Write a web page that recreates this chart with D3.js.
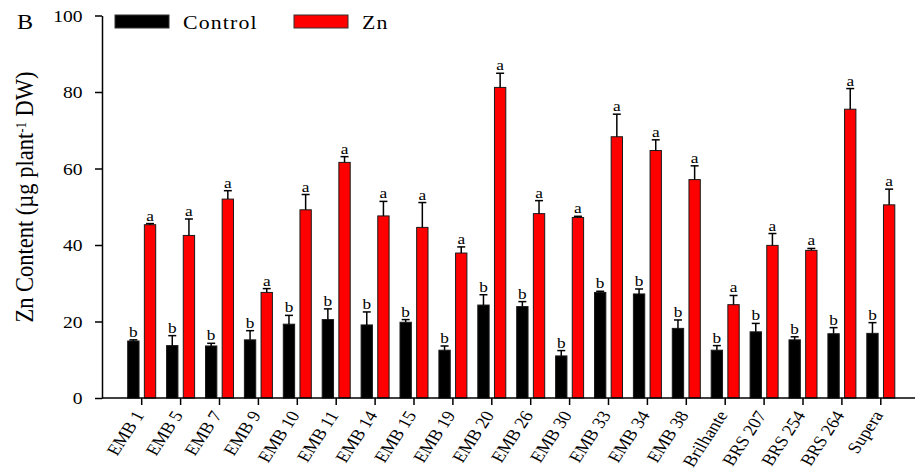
<!DOCTYPE html>
<html>
<head>
<meta charset="utf-8">
<script src="https://cdn.jsdelivr.net/npm/d3@7/dist/d3.min.js"></script>
<style>
  html, body { margin: 0; padding: 0; background: #fff; }
  svg { display: block; }
  svg text { font-family: "Liberation Serif", "Times New Roman", serif; fill: #000; }
</style>
</head>
<body>
<svg id="chart" width="915" height="474"></svg>
<script>
// Genotypes along the x axis
const genotypes = ["EMB 1", "EMB 5", "EMB 7", "EMB 9", "EMB 10", "EMB 11", "EMB 14", "EMB 15",
  "EMB 19", "EMB 20", "EMB 26", "EMB 30", "EMB 33", "EMB 34", "EMB 38", "Brilhante",
  "BRS 207", "BRS 254", "BRS 264", "Supera"];

// Zn content (µg plant-1 DW), mean and standard error
const controlMean = [14.9, 13.7, 13.6, 15.2, 19.3, 20.5, 19.1, 19.8, 12.5, 24.3, 23.9, 11.0, 27.6, 27.2, 18.2, 12.5, 17.3, 15.2, 16.8, 16.9];
const controlErr  = [0.3, 2.6, 0.7, 2.4, 2.3, 2.8, 3.4, 0.7, 1.1, 2.7, 1.3, 1.4, 0.3, 1.3, 2.2, 1.2, 2.2, 0.8, 1.6, 2.8];
const znMean      = [45.3, 42.5, 52.0, 27.6, 49.2, 61.6, 47.6, 44.6, 37.9, 81.2, 48.2, 47.2, 68.3, 64.7, 57.1, 24.4, 39.9, 38.6, 75.5, 50.5];
const znErr       = [0.3, 4.3, 2.2, 1.0, 4.0, 1.5, 3.8, 6.5, 1.6, 3.7, 3.4, 0.3, 5.9, 2.8, 3.6, 2.4, 3.1, 0.5, 5.4, 4.1];

// Mean-separation letters
const controlLetter = Array(20).fill("b");
const znLetter      = Array(20).fill("a");

const seriesNames = ["Control", "Zn"];
const seriesColors = ["#000000", "#ff0000"];
const yTicks = [0, 20, 40, 60, 80, 100];

// Text is drawn slightly wide, as in the figure's typeset style
const SX = 1.15;

const svg = d3.select("#chart");

const axisLeftX = 102, axisRightX = 915;
const y = d3.scaleLinear().domain([0, 100]).range([398, 15.5]);
const x = d3.scaleBand().domain(genotypes).range([122.25, 900.25]).padding(0);
const xSub = d3.scaleBand().domain(seriesNames).range([-14, 14]).paddingInner(0.32);

const rows = genotypes.map((g, i) => ({
  g,
  values: [
    { s: "Control", v: controlMean[i], e: controlErr[i], l: controlLetter[i], c: seriesColors[0] },
    { s: "Zn", v: znMean[i], e: znErr[i], l: znLetter[i], c: seriesColors[1] }
  ]
}));

const groups = svg.append("g").selectAll("g.grp")
  .data(rows).join("g")
  .attr("class", "grp")
  .attr("transform", d => `translate(${x(d.g) + x.bandwidth() / 2},0)`);

// Bars
groups.selectAll("rect")
  .data(d => d.values).join("rect")
  .attr("x", d => xSub(d.s))
  .attr("width", xSub.bandwidth())
  .attr("y", d => y(d.v))
  .attr("height", d => y(0) - y(d.v))
  .attr("fill", d => d.c)
  .attr("stroke", "#1a1a1a")
  .attr("stroke-width", 1);

// Upper error whiskers with caps
const cx = d => xSub(d.s) + xSub.bandwidth() / 2;
const whisk = groups.selectAll("g.err")
  .data(d => d.values).join("g").attr("class", "err");
whisk.append("line")
  .attr("x1", cx).attr("x2", cx)
  .attr("y1", d => y(d.v))
  .attr("y2", d => y(d.v + d.e))
  .attr("stroke", "#000").attr("stroke-width", 1.5);
whisk.append("line")
  .attr("x1", d => cx(d) - 4)
  .attr("x2", d => cx(d) + 4)
  .attr("y1", d => y(d.v + d.e))
  .attr("y2", d => y(d.v + d.e))
  .attr("stroke", "#000").attr("stroke-width", 1.5);

// Letters above whiskers
groups.selectAll("text.letter")
  .data(d => d.values).join("text")
  .attr("class", "letter")
  .attr("text-anchor", "middle")
  .attr("font-size", 15)
  .attr("transform", d => `translate(${cx(d)},${y(d.v + d.e) - 3}) scale(${SX},1)`)
  .text(d => d.l);

// Y axis
const yAxis = svg.append("g")
  .attr("transform", `translate(${axisLeftX},0)`)
  .call(d3.axisLeft(y).tickValues(yTicks).tickSize(7).tickSizeOuter(0));
yAxis.attr("font-family", null);
yAxis.select(".domain").attr("stroke", "#000").attr("stroke-width", 1.5);
yAxis.selectAll(".tick line").attr("stroke", "#000").attr("stroke-width", 1.5);
yAxis.selectAll(".tick text")
  .attr("font-size", 17)
  .attr("x", null).attr("dy", "0.34em")
  .attr("transform", `translate(-19.5,0) scale(${SX},1)`);

// X axis
const xAxis = svg.append("g")
  .attr("transform", `translate(0,${y(0)})`)
  .call(d3.axisBottom(x).tickSize(7).tickSizeOuter(0));
xAxis.attr("font-family", null);
xAxis.select(".domain").remove();
xAxis.append("line")
  .attr("x1", axisLeftX).attr("x2", axisRightX)
  .attr("y1", 0).attr("y2", 0)
  .attr("stroke", "#000").attr("stroke-width", 1.5);
xAxis.selectAll(".tick line").attr("stroke", "#000").attr("stroke-width", 1.5);
xAxis.selectAll(".tick text")
  .attr("font-size", 16.5)
  .attr("text-anchor", "end")
  .attr("dy", null).attr("y", null)
  .attr("transform", `translate(3,17) scale(${SX},1) rotate(-60)`);

// Y axis title
const yTitle = svg.append("text")
  .attr("transform", `translate(33,197) scale(${SX},1) rotate(-90)`)
  .attr("text-anchor", "middle")
  .attr("font-size", 22.5);
yTitle.append("tspan").text("Zn Content (µg plant");
yTitle.append("tspan").attr("baseline-shift", "super").attr("font-size", 13).text("-1");
yTitle.append("tspan").text(" DW)");

// Panel letter
svg.append("text")
  .attr("transform", `translate(17,29) scale(${SX},1)`)
  .attr("font-size", 21)
  .text("B");

// Legend
const legendItems = [
  { name: "Control", color: seriesColors[0], x: 115 },
  { name: "Zn", color: seriesColors[1], x: 294 }
];
const leg = svg.append("g").selectAll("g").data(legendItems).join("g")
  .attr("transform", d => `translate(${d.x},15)`);
leg.append("rect")
  .attr("width", 54).attr("height", 13)
  .attr("fill", d => d.color)
  .attr("stroke", "#333").attr("stroke-width", 1);
leg.append("text")
  .attr("transform", `translate(68,14) scale(${SX},1)`)
  .attr("font-size", 19)
  .attr("letter-spacing", 1)
  .text(d => d.name);
</script>
</body>
</html>
